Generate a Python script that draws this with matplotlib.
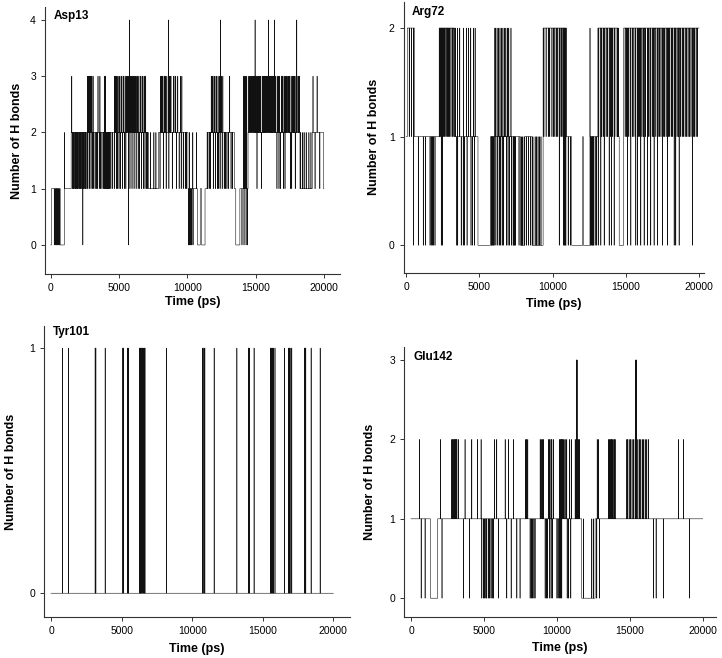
import numpy as np
import matplotlib
matplotlib.use("Agg")
import matplotlib.pyplot as plt

plt.rcParams['font.family'] = ['Liberation Sans', 'DejaVu Sans']

# frames every 10 ps
frame_dt = 10
t_end = 20000

# ---- Asp13 ----
asp13_seg_t = [0, 50, 700, 1000, 1500, 7150, 7900, 10050, 10750, 10950, 11050, 11300, 11450,
               13450, 13550, 13850, 14450, 18250, 19150, 19980]
asp13_seg_v = [0, 1, 0, 1, 2, 1, 2, 1, 0, 1, 0, 1, 2,
               1, 0, 1, 2, 1, 2, 1]
asp13_to1 = [1600, 1650, 1700, 1780, 1830, 1900, 1950, 2000, 2080, 2150, 2200,
             2280, 2420, 2500, 2560, 2650, 2720, 2850, 2950, 3050, 3150, 3250, 3350, 3420,
             3550, 3650, 3750, 3850, 3920, 3980, 4050, 4100, 4150, 4200,
             4250, 4300, 4400, 4500, 4650, 4800, 4900, 5000, 5100, 5250, 5400, 5500, 5800, 5950,
             6100, 6250, 6400, 6500, 6650, 6800, 6900, 7000, 7100, 8000, 8250, 8450, 8650, 8900,
             9200, 9400, 9550, 9700, 9850, 9950, 11500, 11600, 11700, 11900, 12050, 12200, 12300,
             12400, 12550, 12700, 12800, 12900, 13000, 13200, 13300, 15100, 15440, 16560, 16710,
             16830, 17050, 17150, 17540, 17640, 17900, 19350, 19700]
asp13_to2 = [1000, 7300, 7550, 7700, 10150, 10400, 10680, 18300, 18450, 18550, 18700, 18900, 19050]
asp13_to3 = [1540, 2700, 2750, 2800, 2870, 2920, 2960, 3010, 3100, 3460, 3600, 3940, 4020,
             4660, 4720, 4780, 4850, 4930, 5050, 5150, 5200, 5300, 5350, 5450, 5550,
             5620, 5700, 5850, 5900, 6000, 6050, 6150, 6200, 6300, 6350, 6450, 6550, 6600,
             6700, 6750, 6850, 6950, 8050, 8100, 8150, 8200, 8300, 8350, 8400, 8500, 8700, 8750,
             8800, 9000, 9100, 9150, 9300, 9500, 9600, 11750, 11800, 11850, 11950, 12000, 12100,
             12150, 12250, 12350, 12500, 12600, 13100, 14100, 14200, 14250, 14350,
             14500, 14560, 14620, 14700, 14780, 14850, 14900, 15000, 15050, 15150, 15200, 15250,
             15320, 15380, 15500, 15560, 15620, 15680, 15750, 15800, 15870, 16000, 16050, 16100,
             16150, 16200, 16250, 16300, 16420, 16480, 16620, 16680, 16760, 16900, 16950, 17000,
             17100, 17200, 17250, 17300, 17380, 17450, 17500, 17600, 17700, 17750, 17800, 17850,
             17950, 18100, 18150, 18200, 19200, 19500]
asp13_to4 = [5760, 8610, 12420, 14960, 15930, 16370, 18010]
asp13_to0 = [260, 330, 400, 450, 520, 580, 640, 2350, 5690, 10080, 10140, 10200, 10260,
             10330, 10420, 14000, 14150, 14300, 14400]

# ---- Arg72 ----
arg72_seg_t = [0, 70, 550, 2250, 3300, 4900, 5750, 7800, 8100, 8600, 9350, 10950, 11300, 12050,
               12100, 12550, 13100, 14450, 14550, 14850]
arg72_seg_v = [1, 2, 1, 2, 1, 0, 1, 0, 1, 0, 2, 1, 0, 1,
               0, 1, 2, 1, 0, 2]
arg72_to1 = [200, 350, 2280, 2350, 2430, 2500, 2570, 2640, 2720, 2800, 2880, 2960, 3050, 3150,
             3250, 7850, 7950, 8050, 8650, 8800, 8900, 9000, 9100, 9200,
             9400, 9550, 9700, 9800, 9950, 10050, 10150, 10250, 10350, 10500, 10600, 10700,
             13150, 13350, 13450, 13650, 13750, 13950, 14100, 14250, 14400,
             14950, 15050, 15200, 15300, 15450, 15550, 15650, 15850, 15950, 16100, 16200, 16350,
             16550, 16650, 16800, 16900, 17050, 17200, 17300, 17400, 17550, 17650, 17750, 17900,
             18000, 18100, 18200, 18350, 18500, 18600, 18750, 18850, 18950, 19050, 19150, 19250,
             19350, 19450, 19600, 19700, 19800, 19900]
arg72_to2 = [3350, 3500, 3650, 3900, 4100, 4250, 4400, 4600, 4700, 6050, 6100, 6200, 6300,
             6400, 6500, 6600, 6700, 6800, 6900, 7000, 7150, 12550, 14480]
arg72_to0 = [480, 820, 1160, 1300, 1620, 1700, 1780, 1870, 1960, 2390, 2480, 3450, 3510, 3750,
             3890, 3960, 4150, 4420, 4530, 4650, 5800, 5850, 5900, 5950, 6000, 6120, 6250, 6350,
             6450, 6550, 6650, 6850, 6950, 7050, 7200, 7300, 7350, 7400, 7450, 7700, 8200, 8350,
             8500, 10450, 10750, 10800, 10850, 10900, 11060, 11220, 12600, 12650, 12700, 12750,
             12800, 12900, 13000, 13110, 13290, 13520, 13860, 14020, 14200, 15110, 15340, 15680,
             15790, 16020, 16250, 16480, 16700, 16930, 17160, 17500, 17840, 18300, 18410, 18640,
             19550]

# ---- Tyr101 ----
tyr101_seg_t = [0]
tyr101_seg_v = [0]
tyr101_to1 = [800, 1230, 3120, 3170, 3830, 5080, 5130, 5430, 5460, 6260, 6310, 6360, 6420,
              6480, 6540, 6600, 6650, 8170, 10720, 10820, 10890, 11550, 13160, 13980, 14050,
              14380, 15560, 15610, 15700, 15760, 15860, 16530, 16810, 16880, 16930, 17050, 17950,
              17990, 18040, 18420, 19060]

# ---- Glu142 ----
glu142_seg_t = [0, 1330, 1830, 11700, 12620]
glu142_seg_v = [1, 0, 1, 0, 1]
glu142_to2 = [570, 2010, 2790, 2850, 2900, 2960, 3020, 3080, 3140, 3250,
              3700, 4160, 4550, 4800, 5710, 5870, 6450, 6670, 7020, 7860, 7920, 8000, 8420, 8850,
              8920, 9000, 9080, 9420, 9500, 9590, 9650, 9760, 10170, 10230,
              10290, 10350, 10410, 10480, 10560, 10670, 10860, 10980, 11250, 11320, 11400, 11470,
              11540, 12760, 12850, 13530, 13600, 13680, 13720, 13780, 13850, 13930,
              13990, 14790, 14850, 14950, 15050, 15150, 15250, 15360, 15390, 15470, 15550, 15650,
              15750, 15850, 15950, 16050, 16160, 16280, 18330, 18670]
glu142_to3 = [11340, 11360, 11380, 15410, 15430, 15450]
glu142_to0 = [690, 960, 2120, 3590, 4000, 4850, 4960, 5050, 5130, 5190, 5300, 5390,
              5480, 5560, 5650, 5990, 6560, 6860, 7250, 7470, 8160, 8240, 8330,
              8420, 8500, 9190, 9270, 9360, 9510, 9600, 9700, 10000, 10080,
              10160, 10240, 10330, 10700, 10790, 10950, 12730, 12910, 16620, 16800,
              17300, 19090]
glu142_to1 = [11820, 12390, 12500]


def build(seg_t, seg_v, spikes):
    t = np.arange(0, t_end + frame_dt, frame_dt)
    idx = np.searchsorted(seg_t, t, side='right') - 1
    y = np.asarray(seg_v)[idx].astype(float)
    for level, times in spikes:
        for s in times:
            y[int(round(s / frame_dt))] = level
    return t, y


panels = [
    dict(name='Asp13', rect=[0.0623, 0.5836, 0.4086, 0.4058], xlim=(-417, 21180),
         ylim=(-0.516, 4.23), yticks=[0, 1, 2, 3, 4], ylab=-0.075, xlab=-0.082, title_y=0.966,
         data=(asp13_seg_t, asp13_seg_v,
               [(1, asp13_to1), (2, asp13_to2), (3, asp13_to3), (4, asp13_to4), (0, asp13_to0)])),
    dict(name='Arg72', rect=[0.5591, 0.5856, 0.4159, 0.4114], xlim=(-177, 20340),
         ylim=(-0.252, 2.24), yticks=[0, 1, 2], ylab=-0.078, xlab=-0.093, title_y=0.962,
         data=(arg72_seg_t, arg72_seg_v,
               [(1, arg72_to1), (2, arg72_to2), (0, arg72_to0)])),
    dict(name='Tyr101', rect=[0.0614, 0.0619, 0.4234, 0.4427], xlim=(-475, 21180),
         ylim=(-0.098, 1.09), yticks=[0, 1], ylab=-0.09, xlab=-0.088, title_y=0.978,
         data=(tyr101_seg_t, tyr101_seg_v, [(1, tyr101_to1)])),
    dict(name='Glu142', rect=[0.5600, 0.0619, 0.4317, 0.4103], xlim=(-460, 20910),
         ylim=(-0.24, 3.16), yticks=[0, 1, 2, 3], ylab=-0.09, xlab=-0.091, title_y=0.963,
         data=(glu142_seg_t, glu142_seg_v,
               [(2, glu142_to2), (3, glu142_to3), (0, glu142_to0), (1, glu142_to1)])),
]

fig = plt.figure(figsize=(7.22, 6.58), dpi=100)

for p in panels:
    ax = fig.add_axes(p['rect'])
    t, y = build(*p['data'])
    ax.step(t, y, where='post', color='#111111', lw=0.4)
    ax.set_xlim(*p['xlim'])
    ax.set_ylim(*p['ylim'])
    ax.set_xticks([0, 5000, 10000, 15000, 20000])
    ax.set_yticks(p['yticks'])
    for s in ['top', 'right']:
        ax.spines[s].set_visible(False)
    for s in ['left', 'bottom']:
        ax.spines[s].set_linewidth(0.8)
        ax.spines[s].set_color('#333333')
    ax.tick_params(labelsize=7.5, length=3, width=0.7, color='#333333')
    ax.set_xlabel('Time (ps)', fontsize=9, fontweight='bold')
    ax.set_ylabel('Number of H bonds', fontsize=9, fontweight='bold')
    ax.yaxis.set_label_coords(p['ylab'], 0.5)
    ax.xaxis.set_label_coords(0.5, p['xlab'])
    ax.text(0.028, p['title_y'], p['name'], transform=ax.transAxes, fontsize=8.5,
            fontweight='bold', ha='left', va='center')

fig.savefig('out.png', dpi=100)
